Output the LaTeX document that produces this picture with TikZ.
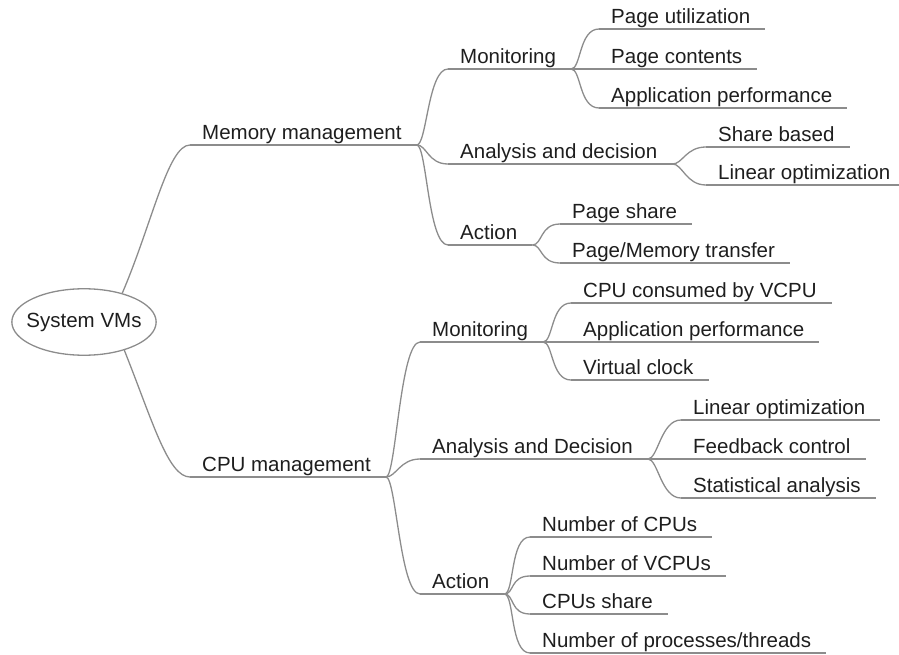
\documentclass[tikz,border=0pt]{standalone}
\usepackage{fontspec}
\setmainfont{Liberation Sans}
\usetikzlibrary{shapes.geometric,calc}
\definecolor{linegray}{RGB}{140,140,140}
\definecolor{textcol}{RGB}{30,30,30}
\tikzset{
  topic/.style={anchor=south west, inner xsep=12bp, inner ysep=0bp,
    text height=15bp, text depth=5bp, text=textcol,
    font=\fontsize{20.5bp}{24bp}\selectfont},
  uline/.style={draw=linegray, line width=1.3bp},
  conn/.style={draw=linegray, line width=1.3bp},
  rootnode/.style={ellipse, draw=linegray, line width=1.3bp,
    inner xsep=-6.5bp, inner ysep=13.5bp, text height=15bp, text depth=5bp, text=textcol,
    font=\fontsize{20.5bp}{24bp}\selectfont}
}
\newcommand{\ul}[1]{\draw[uline] (#1.south west) -- ([xshift=3bp]#1.south east);}
\newcommand{\br}[2]{\draw[conn] ([xshift=3bp]#1.south east) .. controls ([xshift=13bp]#1.south east) and ([xshift=-20bp]#2.south west) .. (#2.south west);}
\begin{document}
\begin{tikzpicture}[x=1bp,y=1bp]
\useasboundingbox (0,0) rectangle (899,-655);
\node[rootnode] (root) at (84,-322) {System VMs};

\node[topic] (mem) at (190,-145) {Memory management};
\node[topic] (cpu) at (190,-477) {CPU management};

\node[topic] (mmon) at (448,-69) {Monitoring};
\node[topic] (mana) at (448,-164) {Analysis and decision};
\node[topic] (mact) at (448,-245) {Action};

\node[topic] (pu) at (599,-29) {Page utilization};
\node[topic] (pc) at (599,-69) {Page contents};
\node[topic] (ap) at (599,-108) {Application performance};
\node[topic] (sb) at (706,-147) {Share based};
\node[topic] (lo) at (706,-185) {Linear optimization};
\node[topic] (ps) at (560,-224) {Page share};
\node[topic] (pm) at (560,-263) {Page/Memory transfer};

\node[topic] (cmon) at (420,-342) {Monitoring};
\node[topic] (cana) at (420,-459) {Analysis and Decision};
\node[topic] (cact) at (420,-594) {Action};

\node[topic] (cc) at (571,-303) {CPU consumed by VCPU};
\node[topic] (ap2) at (571,-342) {Application performance};
\node[topic] (vc) at (571,-380) {Virtual clock};
\node[topic] (lo2) at (681,-420) {Linear optimization};
\node[topic] (fc) at (681,-459) {Feedback control};
\node[topic] (sa) at (681,-498) {Statistical analysis};
\node[topic] (nc) at (530,-537) {Number of CPUs};
\node[topic] (nv) at (530,-576) {Number of VCPUs};
\node[topic] (cs) at (530,-614) {CPUs share};
\node[topic] (np) at (530,-653) {Number of processes/threads};

\foreach \n in {mem,cpu,mmon,mana,mact,pu,pc,ap,sb,lo,ps,pm,cmon,cana,cact,cc,ap2,vc,lo2,fc,sa,nc,nv,cs,np} {\ul{\n}}

\draw[conn] (root.37) .. controls ($(root.37)+(30,70)$) and ([xshift=-22bp]mem.south west) .. (mem.south west);
\draw[conn] (root.-35) .. controls ($(root.-35)+(28,-70)$) and ([xshift=-22bp]cpu.south west) .. (cpu.south west);

\br{mem}{mmon} \br{mem}{mana} \br{mem}{mact}
\br{mmon}{pu} \br{mmon}{pc} \br{mmon}{ap}
\br{mana}{sb} \br{mana}{lo}
\br{mact}{ps} \br{mact}{pm}
\br{cpu}{cmon} \br{cpu}{cana} \br{cpu}{cact}
\br{cmon}{cc} \br{cmon}{ap2} \br{cmon}{vc}
\br{cana}{lo2} \br{cana}{fc} \br{cana}{sa}
\br{cact}{nc} \br{cact}{nv} \br{cact}{cs} \br{cact}{np}
\end{tikzpicture}
\end{document}
